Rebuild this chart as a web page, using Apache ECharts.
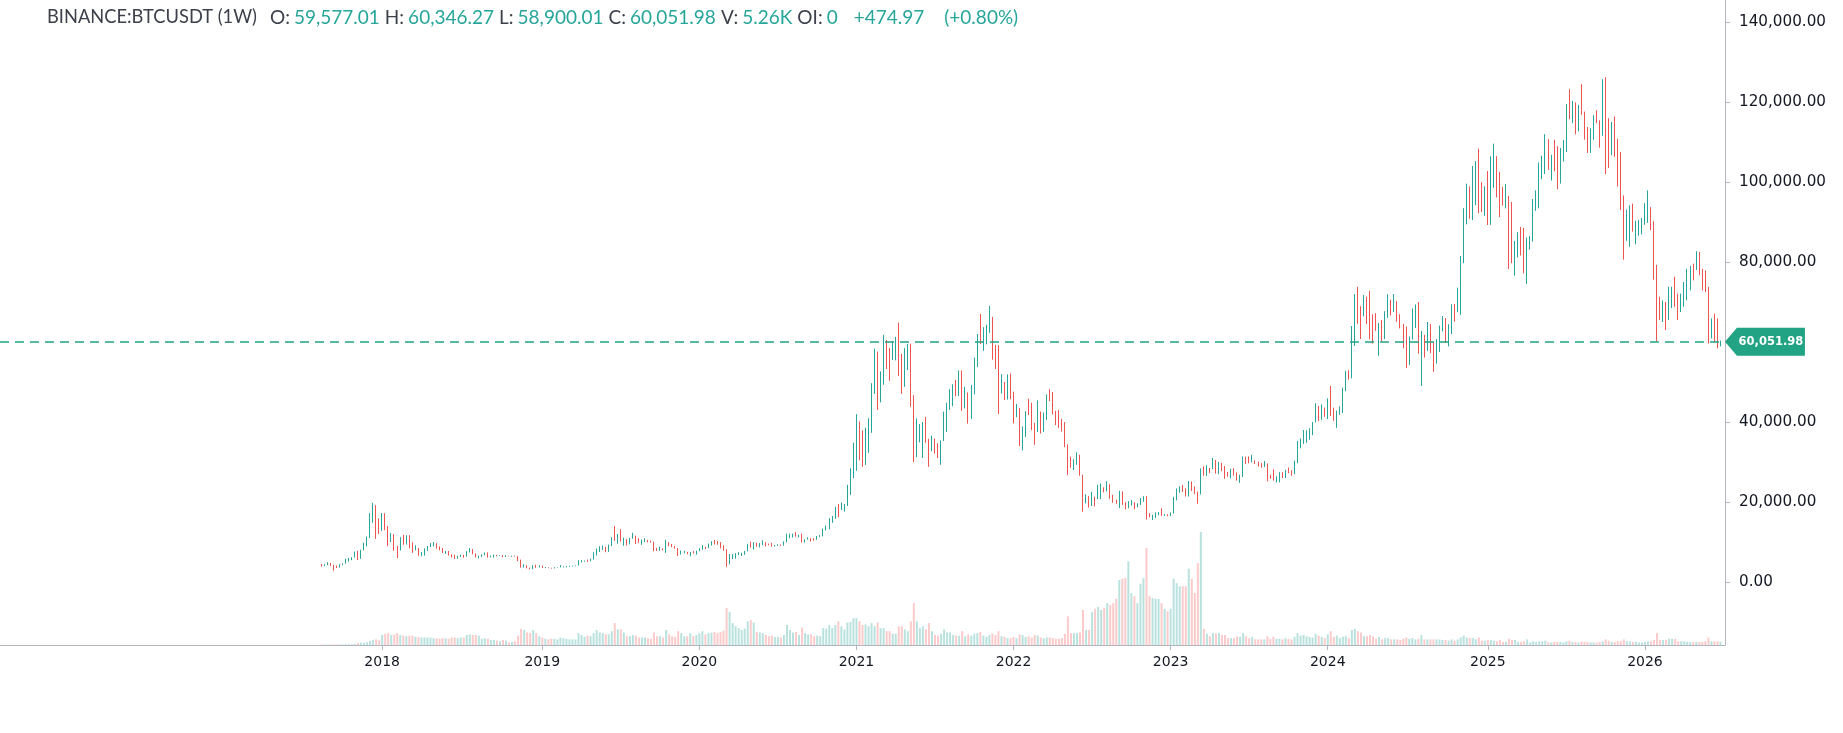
<!DOCTYPE html>
<html><head><meta charset="utf-8">
<script src="https://cdn.jsdelivr.net/npm/echarts@6/dist/echarts.min.js"></script>
<style>html,body{margin:0;padding:0;background:#fff}#chart{width:1843px;height:733px}</style>
</head><body><div id="chart"></div>
<script>
// ---------------- DATA ----------------
const symbolName = 'BINANCE:BTCUSDT (1W)';
const firstWeek = [2017, 7, 14];       // first weekly bar (Mon, 14 Aug 2017)
const priceTicks = [0, 20000, 40000, 60000, 80000, 100000, 120000, 140000];

// weekly rows: [open, high, low, close, volume (K)]
const w2017 = [
[4261,4485,3850,4087,0.6],[4087,4400,3950,4310,0.6],[4310,4939,4200,4586,0.8],[4586,4760,4000,4130,0.8],
[4130,4330,2817,3700,1.2],[3700,4120,3500,3660,0.8],[3660,4440,3630,4340,0.8],[4340,4660,4200,4600,0.8],
[4600,5860,4560,5600,1.2],[5600,6000,5100,5990,1.2],[5990,6190,5450,6150,1.2],[6150,7600,6100,7350,1.6],
[7350,7780,5500,5860,3.2],[5860,8100,5800,8000,3.5],[8000,9800,7900,9700,3.7],[9700,11400,8900,11200,4.5],
[11200,17200,11000,15000,6.5],[15000,19800,14800,19000,8],[19000,19200,10800,14000,9],[14000,15900,12000,13700,7.5]
];
const w2018 = [
[13700,17250,12800,16100,16],[16100,17180,12950,13500,18],[13500,14000,9000,11500,19],[11500,12250,10000,11700,16],
[11700,11950,7800,8200,17],[8200,9000,6000,8100,19],[8100,11200,7900,10300,16],[10300,11800,9300,9600,15],
[9600,11700,9350,11400,14],[11400,11700,8400,9500,15],[9500,9900,7300,8200,15],[8200,9200,7900,8450,13],
[8450,8500,6550,6800,13],[6800,7500,6430,7000,12],[7000,8400,6600,8300,12],[8300,9000,7800,8900,12],
[8900,9750,8700,9350,12],[9350,9990,8900,9650,11],[9650,9700,8350,8700,11],[8700,8900,7900,8500,10],
[8500,8500,7250,7350,11],[7350,7780,7050,7700,11],[7700,7750,6600,6770,10],[6770,6900,6130,6450,12],
[6450,6800,5750,6150,12],[6150,6530,5800,6350,11],[6350,6840,6250,6750,12],[6750,6800,6070,6350,12],
[6350,7700,6300,7400,16],[7400,8500,7400,8200,17],[8200,8250,6950,7000,16],[7000,7150,6120,6300,16],
[6300,6600,5880,6480,15],[6480,6900,6250,6700,10],[6700,7380,6660,7300,11],[7300,7400,6100,6250,10],
[6250,6600,6150,6500,8],[6500,6850,6100,6700,8],[6700,6800,6450,6600,7],[6600,6700,6500,6600,6],
[6600,6700,6200,6300,8],[6300,6700,6250,6500,7],[6500,6550,6400,6420,4],[6420,6540,6300,6450,5],
[6450,6600,6350,6380,6],[6380,6500,5200,5550,15],[5550,5600,3600,4000,26],[4000,4450,3650,4100,24],
[4100,4200,3400,3550,20],[3550,3600,3150,3250,19],[3250,4200,3230,4000,24],[4000,4300,3550,3850,19],
[3850,4150,3650,4050,14]
];
const w2019 = [
[4050,4100,3500,3550,12],[3550,3750,3470,3550,10],[3550,3650,3450,3530,9],[3530,3550,3350,3410,10],
[3410,3700,3380,3660,10],[3660,3700,3560,3670,9],[3670,4200,3650,3800,12],[3800,3900,3650,3820,11],
[3820,3960,3680,3940,10],[3940,4050,3790,4000,9],[4000,4100,3900,4000,9],[4000,4140,3950,4100,9],
[4100,5470,4090,5050,19],[5050,5470,4900,5070,16],[5070,5370,5050,5300,13],[5300,5600,5050,5200,15],
[5200,5840,5160,5700,14],[5700,7450,5600,7000,19],[7000,8370,6600,8000,24],[8000,8950,7500,8700,20],
[8700,9100,8020,8730,19],[8730,8800,7450,7650,17],[7650,9350,7530,8990,17],[8990,11200,8970,10850,22],
[10850,13970,10300,10800,35],[10800,12000,9600,11480,25],[11480,13200,10100,10200,25],[10200,11100,9070,10500,20],
[10500,10700,9100,9500,14],[9500,11000,9400,10800,14],[10800,12300,10800,11300,16],[11300,11600,9500,10300,15],
[10300,10950,9800,10100,12],[10100,10600,9300,10400,12],[10400,10900,10000,10400,12],[10400,10500,9900,10300,11],
[10300,10350,9850,10050,10],[10050,10100,7700,8100,20],[8100,8520,7750,7850,14],[7850,8800,7800,8300,14],
[8300,8400,7900,8200,12],[8200,10540,7300,9550,24],[9550,9950,8950,9300,17],[9300,9500,8700,9000,14],
[9000,9000,8350,8500,13],[8500,8500,6520,7000,22],[7000,7850,6850,7400,19],[7400,7800,7200,7500,14],
[7500,7550,6950,7100,14],[7100,7500,6430,7500,19],[7500,7700,7100,7400,14],[7400,7850,6850,7750,16]
];
const w2020 = [
[7750,8450,7700,8100,19],[8100,9200,8050,8700,22],[8700,8800,8250,8600,17],[8600,9600,8470,9350,19],
[9350,10200,9100,10150,20],[10150,10500,9400,9900,21],[9900,10250,9300,9650,19],[9650,9980,8400,8550,21],
[8550,9200,7800,8050,23],[8050,8180,3780,5350,59],[5350,7000,4400,5800,53],[5800,7000,5750,5900,35],
[5900,7200,5850,6900,30],[6900,7450,6750,6900,27],[6900,7300,6500,7150,24],[7150,7770,6800,7700,26],
[7700,9480,7680,8900,38],[8900,10070,8600,8750,40],[8750,9950,8120,9700,36],[9700,9850,8800,8900,21],
[8900,9750,8640,9450,20],[9450,10430,9250,9750,19],[9750,9950,8900,9350,16],[9350,9600,9180,9300,14],
[9300,9800,8830,9050,15],[9050,9300,8900,9070,13],[9070,9450,9050,9250,13],[9250,9350,9050,9200,12],
[9200,10150,9100,9950,16],[9950,12100,9880,11100,32],[11100,12100,10950,11700,24],[11700,12100,11100,11900,20],
[11900,12470,11300,11650,21],[11650,11800,11100,11700,16],[11700,12100,9850,10250,28],[10250,10700,9860,10700,19],
[10700,11200,10600,10900,17],[10900,10950,10150,10750,17],[10750,10960,10380,10650,14],[10650,11500,10530,11400,15],
[11400,11720,11200,11500,14],[11500,13350,11400,13050,27],[13050,14100,12900,13750,26],[13750,15960,13200,15000,32],
[15000,16500,14800,16000,27],[16000,18800,15800,18400,32],[18400,19480,16200,18200,38],[18200,19900,18000,19150,30],
[19150,19450,17600,19150,25],[19150,24300,19000,23800,36],[23800,28400,21800,26500,37],[26500,34800,26000,33000,43]
];
const w2021 = [
[33000,41950,27800,38200,43],[38200,40100,30400,35800,38],[35800,37900,28800,32300,32],[32300,38600,29250,33100,33],
[33100,40950,32300,38800,30],[38800,49700,37300,48500,35],[48500,58350,47000,57500,30],[57500,57600,43000,45250,36],
[45250,52650,44900,51000,27],[51000,61800,49300,59000,27],[59000,60500,53250,57500,22],[57500,58500,50300,55800,22],
[55800,60200,55500,57900,18],[57900,61300,55400,59800,18],[59800,64850,51500,56200,30],[56200,57000,47050,49050,30],
[49050,58450,48800,56600,25],[56600,59500,53000,58200,22],[58200,59600,43800,46400,38],[46400,46700,30000,34700,67],
[34700,40900,31200,35600,38],[35600,39500,34900,35800,27],[35800,40000,31000,39100,30],[39100,41300,34800,35500,25],
[35500,35800,28800,34700,35],[34700,36600,32700,35300,22],[35300,35900,32100,34250,16],[34250,34680,31000,31800,15],
[31800,35400,29300,35400,18],[35400,42600,35250,39900,25],[39900,44800,37500,43800,20],[43800,48200,43000,47000,20],
[47000,49400,43950,49250,16],[49250,50500,46400,48800,15],[48800,52900,46500,51800,15],[51800,52900,42800,45000,22],
[45000,48800,43400,47250,14],[47250,47350,39600,43200,17],[43200,49250,40750,48200,15],[48200,56100,46900,54650,18],
[54650,62000,53800,61500,19],[61500,67000,59500,61000,21],[61000,63700,57800,61300,15],[61300,64300,59400,63300,13],
[63300,69000,62300,65000,16],[65000,66300,55600,59000,18],[59000,59300,53250,57300,16],[57300,59200,42000,49400,22],
[49400,51950,47100,49400,14],[49400,50000,45500,46700,13],[46700,51900,45600,50800,11],[50800,52100,45700,47300,11]
];
const w2022 = [
[47300,47600,39650,41850,13],[41850,44500,41200,42200,11],[42200,43500,34000,36300,17],[36300,38900,32900,38450,16],
[38450,42700,36250,42400,13],[42400,45850,41750,42200,14],[42200,44800,37950,38400,12],[38400,39800,34300,37700,16],
[37700,45400,37500,38400,15],[38400,42600,37150,37800,12],[37800,42350,37550,41300,11],[41300,46900,40500,46800,12],
[46800,48200,45200,46400,12],[46400,47500,41900,42750,11],[42750,42800,39200,40400,10],[40400,42990,38500,39450,10],
[39450,40800,37600,38450,11],[38450,40000,33700,34300,18],[34300,34400,26700,31300,46],[31300,31300,28600,29450,19],
[29450,30700,28000,29450,19],[29450,32400,29300,29900,19],[29900,31800,26560,26600,20],[26600,26800,17600,20550,56],
[20550,21900,19650,21000,24],[21000,21500,18600,19300,24],[19300,22550,19000,20850,53],[20850,21300,18900,20800,58],
[20800,24300,20750,22600,61],[22600,24650,20700,23650,56],[23650,23650,22400,22950,59],[22950,25200,22650,24300,67],
[24300,24450,20800,21500,64],[21500,21800,19800,20050,67],[20050,20580,19550,19850,74],[19850,22800,18500,21800,104],
[21800,22650,19300,19400,106],[19400,19950,18150,18800,107],[18800,20200,18450,19300,134],[19300,20500,19100,19400,83],
[19400,19950,18200,19250,78],[19250,19700,18650,19550,67],[19550,21000,19250,20600,98],[20600,21450,20050,20900,107],
[20900,21450,15600,16300,155],[16300,17200,16200,16250,78],[16250,16800,15500,16450,75],[16450,17400,16000,17100,74],
[17100,17450,16700,17100,74],[17100,18400,16500,16750,67],[16750,17000,16550,16850,58],[16850,16950,16450,16550,54]
];
const w2023 = [
[16550,17400,16500,17150,58],[17150,21300,17100,20900,106],[20900,23400,20400,22750,99],[22750,23950,22300,23750,94],
[23750,24250,22500,22950,94],[22950,23450,21400,21800,94],[21800,25250,21350,24650,122],[24650,25130,22750,23550,106],
[23550,23900,21950,22350,83],[22350,22600,19550,22150,131],[22150,28400,21900,28000,181],[28000,28900,26600,27500,26],
[27500,29200,26500,28450,18],[28450,28500,27200,28350,14],[28350,31000,28200,30300,19],[30300,30500,27100,27600,18],
[27600,30000,26950,29250,19],[29250,29800,27700,28700,16],[28700,29000,25800,26900,16],[26900,27500,26350,26750,11],
[26750,28300,25900,28100,11],[28100,28450,26600,27100,11],[27100,27400,25350,25850,14],[25850,26800,24800,26350,13],
[26350,31400,26250,30550,19],[30550,31300,29500,30200,14],[30200,31400,29700,30150,11],[30150,31800,29950,30300,13],
[30300,30400,29500,30100,9],[30100,30100,28850,29300,9],[29300,29700,28600,29050,9],[29050,30250,28750,29300,9],
[29300,29650,25150,26100,14],[26100,26800,25800,26000,10],[26000,28150,25350,25850,13],[25850,26400,24900,25850,10],
[25850,27480,24900,26550,10],[26550,27450,26000,26250,9],[26250,28050,26000,27950,11],[27950,28600,27200,27900,10],
[27900,27950,26550,27150,9],[27150,30350,26950,29950,13],[29950,35280,29700,34500,19],[34500,35900,33400,35000,15],
[35000,38000,34500,37050,16],[37050,37950,34800,37350,14],[37350,38450,35600,37450,13],[37450,40000,36700,39950,12],
[39950,44700,39900,43800,18],[43800,44000,40200,41650,15],[41650,44400,40550,43000,13],[43000,43600,41300,42300,11]
];
const w2024 = [
[42300,45900,40750,43950,17],[43950,49000,41500,41750,22],[41750,43600,40300,41600,13],[41600,42850,38550,42050,15],
[42050,43900,41800,42600,11],[42600,48600,42250,48300,13],[48300,52800,47700,52150,14],[52150,52950,50600,51700,11],
[51700,64000,50900,63100,24],[63100,72000,59000,68950,26],[68950,73800,64550,68400,22],[68400,68950,60750,67200,20],
[67200,71750,66400,69650,14],[69650,71350,64500,69350,14],[69350,72800,60650,65650,16],[65650,66900,59600,64950,14],
[64950,67200,62800,63100,10],[63100,64750,56550,63900,13],[63900,65500,60200,61500,9],[61500,67700,60700,67000,11],
[67000,71950,66050,68500,11],[68500,70600,66650,67750,9],[67750,72000,67500,69650,9],[69650,70200,65050,66650,9],
[66650,66950,63400,64250,8],[64250,64500,58400,62700,10],[62700,63850,53500,55850,12],[55850,61400,54250,60800,10],
[60800,68400,60600,68150,11],[68150,69400,63500,68250,9],[68250,70000,57100,58150,10],[58150,62750,49000,58700,16],
[58700,61800,56100,58450,9],[58450,65000,57800,64200,9],[64200,64500,57200,57300,9],[57300,59800,52550,54850,9],
[54850,60700,54600,59950,9],[59950,64100,57500,63600,9],[63600,66500,62650,65650,8],[65650,66000,59800,62800,8],
[62800,64450,58900,63900,7],[63900,69400,62000,68350,9],[68350,69500,65050,68000,7],[68000,73600,67450,68750,9],
[68750,81500,66800,80400,12],[80400,93450,79700,89900,15],[89900,99600,89400,97900,12],[97900,98900,90800,97200,11],
[97200,104000,90500,101100,11],[101100,105200,94200,104450,9],[104450,108350,92200,95200,12],[95200,99950,92500,93700,7],
[93700,98950,91550,98350,7]
];
const w2025 = [
[98350,102750,89250,94500,8],[94500,106400,89300,101350,8],[101350,109600,98550,102600,7],[102600,106450,96150,97700,6],
[97700,102500,91200,96450,8],[96450,98800,94100,96150,5],[96150,99500,93400,96250,5],[96250,96500,78250,94250,10],
[94250,95000,79700,80700,8],[80700,85300,76600,82600,8],[82600,87450,81150,86100,5],[86100,88750,81650,82400,5],
[82400,88500,77150,78400,6],[78400,86100,74500,83750,9],[83750,86500,83100,85150,4],[85150,95750,85100,93750,6],
[93750,97900,92800,94300,5],[94300,104900,93400,104000,6],[104000,106600,100700,106400,6],[106400,111950,102000,109000,7],
[109000,110700,103050,105650,5],[105650,106800,100350,105700,4],[105700,110550,102650,105500,5],[105500,108950,98200,100950,5],
[100950,108500,99600,108350,5],[108350,110500,105100,109200,4],[109200,119500,107500,119100,6],[119100,123200,115700,117300,7],
[117300,120250,114700,119450,5],[119450,119900,111900,114200,5],[114200,119300,112650,119300,4],[119300,124450,116800,117500,6],
[117500,117600,110600,113500,5],[113500,113750,107250,108250,5],[108250,113400,107250,111150,4],[111150,116700,110600,115300,4],
[115300,117900,114700,115250,4],[115250,115400,108600,112150,5],[112150,125700,111600,123500,6],[123500,126200,102000,115150,9],
[115150,115950,103500,108650,7],[108650,115000,106700,114500,5],[114500,116400,106300,110600,5],[110600,110800,98900,104700,6],
[104700,107500,93000,94250,6],[94250,96650,80600,86800,9],[86800,93100,85300,90400,6],[90400,94150,83800,90600,6],
[90600,94600,87600,88200,5],[88200,90300,84400,88600,5],[88600,90500,86600,88900,4],[88900,91000,86900,90500,4]
];
const w2026 = [
[90500,94700,89300,90600,5],[90600,97900,89800,93600,6],[93600,93700,88000,88900,6],[88900,90200,75600,78600,8],
[78600,79300,60100,70500,19],[70500,71300,65500,68800,8],[68800,70400,65000,69900,8],[69900,70000,63000,66000,8],
[66000,73800,65500,71200,10],[71200,73800,68500,72900,10],[72900,76300,68800,70000,10],[70000,72100,65500,67800,6],
[67800,72100,67500,70300,6],[70300,75000,68800,73800,6],[73800,78300,70400,76000,5],[76000,79000,72900,78700,5],
[78700,79600,75400,78300,5],[78300,82700,78000,81900,5],[81900,82500,76700,77800,5],[77800,78300,72900,76800,5],
[76800,77900,72500,73300,6],[73300,73800,59600,62500,12],[62500,65900,60900,65000,6],[65000,67100,60000,63800,6],
[63800,65900,58400,59577.01,6],[59577.01,60346.27,58900.01,60051.98,5.26]
];

// ---------------- BUILD ----------------
const weeks = [].concat(w2017, w2018, w2019, w2020, w2021, w2022, w2023, w2024, w2025, w2026);
const padBefore = 106, padAfter = 1;
const DAY = 864e5;
const startMs = Date.UTC(firstWeek[0], firstWeek[1], firstWeek[2]) - padBefore * 7 * DAY;
const total = padBefore + weeks.length + padAfter;
const cats = [];
for (let i = 0; i < total; i++) cats.push(new Date(startMs + i * 7 * DAY).toISOString().slice(0, 10));

const candleData = [], volData = [];
for (let i = 0; i < total; i++) {
  const r = weeks[i - padBefore];
  if (r) { candleData.push([r[0], r[3], r[2], r[1]]); volData.push(r[4]); }
  else { candleData.push('-'); volData.push('-'); }
}

const UP = '#26a69a', DOWN = '#ef5350', TAG = '#22a384';
const UPV = 'rgba(38,166,154,0.32)', DOWNV = 'rgba(239,83,80,0.30)';
const f2 = v => v.toLocaleString('en-US', {minimumFractionDigits: 2, maximumFractionDigits: 2});
const last = weeks[weeks.length - 1], prev = weeks[weeks.length - 2];
const chg = last[3] - prev[3], pct = chg / prev[3] * 100;
const lastIdx = padBefore + weeks.length - 1;
// axis labels hidden behind the last-price tag (as TradingView does)
const labelTicks = priceTicks.filter(v => Math.abs(v - last[3]) > 6000);

const isYearStart = (i) => i > padBefore && i < padBefore + weeks.length &&
  cats[i].slice(0, 4) !== cats[i - 1].slice(0, 4);

const header =
  '{n|' + symbolName + '}' +
  '{k|O:}{v|' + f2(last[0]) + '}' +
  '{k|H:}{v|' + f2(last[1]) + '}' +
  '{k|L:}{v|' + f2(last[2]) + '}' +
  '{k|C:}{v|' + f2(last[3]) + '}' +
  '{k|V:}{v|' + last[4].toFixed(2) + 'K}' +
  '{k|OI:}{v|0}' +
  '{c|' + (chg >= 0 ? '+' : '') + f2(chg) + '}' +
  '{d|(' + (pct >= 0 ? '+' : '') + pct.toFixed(2) + '%)}';

const HF = 'Lato', HS = 19;
const chart = echarts.init(document.getElementById('chart'));
chart.setOption({
  animation: false,
  backgroundColor: '#ffffff',
  title: {
    left: 47, top: 8, padding: 0,
    text: header,
    textStyle: {
      fontFamily: HF, fontSize: HS, fontWeight: 'normal',
      rich: {
        n: {fontFamily: HF, fontSize: 18.3, fontWeight: 'normal', color: '#3c404b', padding: [0, 8, 0, 0]},
        k: {fontFamily: HF, fontSize: HS, fontWeight: 'normal', color: '#3c404b', padding: [0, 4, 0, 5]},
        v: {fontFamily: HF, fontSize: HS, fontWeight: 'normal', color: UP},
        c: {fontFamily: HF, fontSize: HS, fontWeight: 'normal', color: UP, padding: [0, 0, 0, 16]},
        d: {fontFamily: HF, fontSize: HS, fontWeight: 'normal', color: UP, padding: [0, 0, 0, 20]}
      }
    }
  },
  grid: {left: 0, right: 118, top: 0, bottom: 88},
  xAxis: {
    type: 'category', data: cats, boundaryGap: true,
    axisLine: {onZero: false, lineStyle: {color: '#b2b5be', width: 1}},
    axisTick: {show: true, interval: isYearStart, alignWithLabel: true, length: 5, lineStyle: {color: '#b2b5be'}},
    axisLabel: {interval: isYearStart, formatter: v => v.slice(0, 4), color: '#131722',
      fontFamily: 'DejaVu Sans', fontSize: 14, margin: 10},
    splitLine: {show: false}
  },
  yAxis: [{
    type: 'value', position: 'right', min: -15750, max: 145500,
    splitLine: {show: false},
    axisLine: {show: true, onZero: false, lineStyle: {color: '#b2b5be'}},
    axisTick: {show: true, customValues: priceTicks, length: 5, lineStyle: {color: '#b2b5be'}},
    axisLabel: {customValues: labelTicks, formatter: v => f2(v), color: '#131722',
      fontFamily: 'DejaVu Sans', fontSize: 15.2, margin: 14}
  }, {
    type: 'value', min: 0, max: 1032, show: false
  }],
  series: [{
    type: 'bar', name: 'Volume', yAxisIndex: 1, data: volData, barWidth: 2,
    silent: true,
    itemStyle: {color: p => { const r = weeks[p.dataIndex - padBefore]; return r && r[3] >= r[0] ? UPV : DOWNV; }}
  }, {
    type: 'candlestick', name: 'BTCUSDT', data: candleData, barWidth: 1,
    silent: true,
    itemStyle: {color: UP, color0: DOWN, borderColor: UP, borderColor0: DOWN, borderWidth: 1},
    markLine: {
      silent: true, symbol: ['none', 'none'],
      data: [{yAxis: last[3]}],
      lineStyle: {color: TAG, type: [9, 6], width: 1.5},
      label: {show: false}
    },
    markPoint: {
      silent: true,
      data: [{coord: [lastIdx, last[3]]}],
      symbol: 'path://M0,14L12,0L80,0L80,28L12,28Z',
      symbolSize: [80, 28], symbolKeepAspect: false, symbolOffset: [44.5, 0],
      itemStyle: {color: TAG},
      label: {show: true, formatter: f2(last[3]), color: '#ffffff', fontFamily: 'DejaVu Sans',
        fontSize: 11.5, fontWeight: 'bold', offset: [6, 0]}
    }
  }]
});
</script>
</body></html>
